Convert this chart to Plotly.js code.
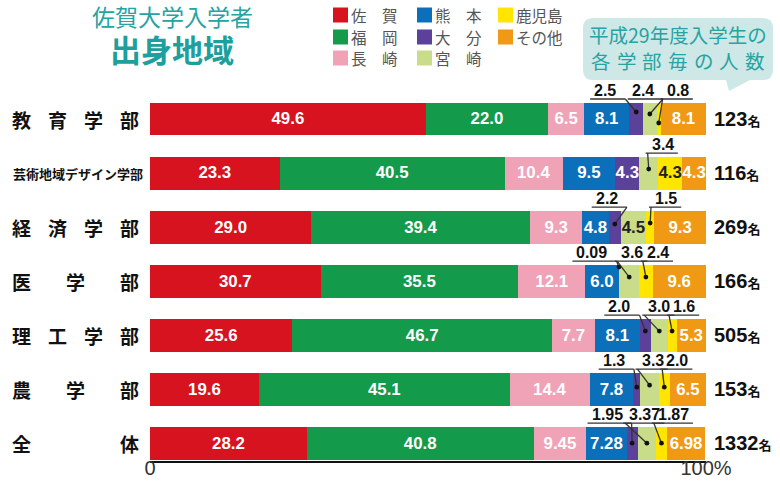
<!DOCTYPE html>
<html>
<head>
<meta charset="utf-8">
<script src="https://cdn.plot.ly/plotly-3.0.1.min.js"></script>
<style>
  html, body { margin: 0; padding: 0; background: #ffffff; }
  #chart { width: 780px; height: 483px; }
</style>
</head>
<body>
<div id="chart"></div>
<script>
// ---------------- data ----------------
const categories = ['教育学部', '芸術地域デザイン学部', '経済学部', '医学部', '理工学部', '農学部', '全体'];
const counts = [123, 116, 269, 166, 505, 153, 1332];
const regions = ['佐賀', '福岡', '長崎', '熊本', '大分', '宮崎', '鹿児島', 'その他'];

const saga      = [49.6, 23.3, 29.0, 30.7, 25.6, 19.6, 28.2];
const fukuoka   = [22.0, 40.5, 39.4, 35.5, 46.7, 45.1, 40.8];
const nagasaki  = [6.5, 10.4, 9.3, 12.1, 7.7, 14.4, 9.45];
const kumamoto  = [8.1, 9.5, 4.8, 6.0, 8.1, 7.8, 7.28];
const oita      = [2.5, 4.3, 2.2, 0.09, 2.0, 1.3, 1.95];
const miyazaki  = [2.4, 3.4, 4.5, 3.6, 3.0, 3.3, 3.37];
const kagoshima = [0.8, 4.3, 1.5, 2.4, 1.6, 2.0, 1.87];
const sonota    = [8.1, 4.3, 9.3, 9.6, 5.3, 6.5, 6.98];

const tickVals = [0, 100];
const tickText = ['0', '100%'];

const series = [saga, fukuoka, nagasaki, kumamoto, oita, miyazaki, kagoshima, sonota];

// ---------------- style ----------------
const colors = ['#d6131f', '#139a4b', '#f0a2b7', '#0c6fb9', '#5b4199', '#c8dc89', '#ffe500', '#ef9914'];
const darkTextSeries = [5, 6];          // light green / yellow get dark text
const teal = '#27a3a1';
const W = 780, H = 483, L = 150, R = 74, T = 92, B = 22;
const PW = W - L - R, PH = H - T - B;
const px2x = px => (px - L) / PW;
const py2y = py => (T + PH - py) / PH;

// callouts: small segments labelled above the bar (row, series, label offset, dot offset)
const callouts = [
  {row: 0, s: 4, dx: -31, dy: 7}, {row: 0, s: 5, dx: -7, dy: 5}, {row: 0, s: 6, dx: 19, dy: -4},
  {row: 1, s: 5, dx: 14, dy: 4},
  {row: 2, s: 4, dx: -8, dy: 3}, {row: 2, s: 6, dx: 16, dy: 4},
  {row: 3, s: 4, dx: -27, dy: 14}, {row: 3, s: 5, dx: 3, dy: 4}, {row: 3, s: 6, dx: 12, dy: 4},
  {row: 4, s: 4, dx: -26, dy: 4}, {row: 4, s: 5, dx: 0, dy: 4}, {row: 4, s: 6, dx: 12, dy: 4},
  {row: 5, s: 4, dx: -23, dy: 2}, {row: 5, s: 5, dx: 3, dy: 4}, {row: 5, s: 6, dx: 13, dy: 2},
  {row: 6, s: 4, dx: -25, dy: 0}, {row: 6, s: 5, dx: -2, dy: 0}, {row: 6, s: 6, dx: 12, dy: 0}
];

function fmt(v) {
  return Math.abs(v * 10 - Math.round(v * 10)) < 1e-9 ? v.toFixed(1) : v.toFixed(2);
}
const isCallout = (r, s) => callouts.some(c => c.row === r && c.s === s);
const rows = categories.map((_, i) => i);

// ---------------- traces ----------------
const traces = series.map((vals, s) => ({
  type: 'bar',
  orientation: 'h',
  name: regions[s],
  x: vals,
  y: rows,
  width: 0.61,
  marker: {color: colors[s], line: {width: 0}},
  text: vals.map((v, r) => isCallout(r, s) ? '' : fmt(v)),
  texttemplate: '<b>%{text}</b>',
  textposition: 'inside',
  insidetextanchor: 'middle',
  textangle: 0,
  textfont: {
    family: 'Liberation Sans, Arial, sans-serif',
    size: 17,
    weight: 'bold',
    color: vals.map(() => darkTextSeries.includes(s) ? '#222222' : '#ffffff')
  },
  hoverinfo: 'skip',
  showlegend: false
}));

// ---------------- annotations & shapes ----------------
const annotations = [];
const shapes = [];
const cjk = 'Noto Sans CJK JP, sans-serif';

// title
annotations.push({xref: 'paper', yref: 'paper', x: px2x(172), y: py2y(16.5), xanchor: 'center', yanchor: 'middle',
  text: '佐賀大学入学者', showarrow: false, font: {family: cjk, size: 23, color: teal}});
annotations.push({xref: 'paper', yref: 'paper', x: px2x(172), y: py2y(49), xanchor: 'center', yanchor: 'middle',
  text: '<b>出身地域</b>', showarrow: false, font: {family: cjk, size: 31, color: '#1c9f9d'}});

// custom legend: 3 columns, column-major
const legCols = [333, 417, 498], legRows = [15, 37, 58];
regions.forEach((name, i) => {
  const cx = legCols[Math.floor(i / 3)], cy = legRows[i % 3];
  shapes.push({type: 'rect', xref: 'paper', yref: 'paper',
    x0: px2x(cx), x1: px2x(cx + 15), y0: py2y(cy + 7.5), y1: py2y(cy - 7.5),
    fillcolor: colors[i], line: {width: 0}});
  const label = name.length === 2 ? name[0] + '\u3000' + name[1] : name;
  annotations.push({xref: 'paper', yref: 'paper', x: px2x(cx + 16), y: py2y(cy), xanchor: 'left', yanchor: 'middle',
    text: label, showarrow: false, font: {family: cjk, size: 15.5, color: '#555555'}});
});

// speech bubble
(function () {
  const x0 = 583, x1 = 773, y0 = 18, y1 = 80, r = 10;
  const P = (x, y) => px2x(x).toFixed(5) + ',' + py2y(y).toFixed(5);
  const path = 'M' + P(x0 + r, y0) + ' L' + P(x1 - r, y0) + ' Q' + P(x1, y0) + ' ' + P(x1, y0 + r) +
    ' L' + P(x1, y1 - r) + ' Q' + P(x1, y1) + ' ' + P(x1 - r, y1) +
    ' L' + P(750, y1) + ' L' + P(729, 91) + ' L' + P(726, y1) +
    ' L' + P(x0 + r, y1) + ' Q' + P(x0, y1) + ' ' + P(x0, y1 - r) +
    ' L' + P(x0, y0 + r) + ' Q' + P(x0, y0) + ' ' + P(x0 + r, y0) + ' Z';
  shapes.push({type: 'path', xref: 'paper', yref: 'paper', path: path, fillcolor: '#cde8e6', line: {width: 0}, layer: 'below'});
})();
annotations.push({xref: 'paper', yref: 'paper', x: px2x(678), y: py2y(34.5), xanchor: 'center', yanchor: 'middle',
  text: '平成29年度入学生の', showarrow: false, borderpad: 0, font: {family: cjk, size: 19.5, color: teal}});

// spread characters evenly between two pixel positions
function spread(text, left, right, yref, yval, size, color, bold) {
  const chars = Array.from(text);
  const cw = size * 0.95;
  const n = chars.length;
  chars.forEach((ch, k) => {
    const c = n === 1 ? (left + right) / 2 : left + cw / 2 + k * (right - left - cw) / (n - 1);
    annotations.push({xref: 'paper', yref: yref, x: px2x(c), y: yval, xanchor: 'center', yanchor: 'middle',
      text: bold ? '<b>' + ch + '</b>' : ch, showarrow: false, borderpad: 0, font: {family: cjk, size: size, color: color}});
  });
}
spread('各学部毎の人数', 592, 764, 'paper', py2y(60.5), 19.5, teal, false);

// category labels
categories.forEach((cat, r) => {
  if (cat.length > 4) {
    annotations.push({xref: 'paper', yref: 'y', x: px2x(11), y: r, xanchor: 'left', yanchor: 'middle',
      text: '<b>' + cat + '</b>', showarrow: false, font: {family: cjk, size: 13, color: '#111111'}});
  } else {
    spread(cat, 12, 139, 'y', r, 19, '#111111', true);
  }
});

// counts on the right
counts.forEach((c, r) => {
  annotations.push({xref: 'paper', yref: 'y', x: 1, xshift: 6, y: r, xanchor: 'left', yanchor: 'middle',
    text: '<b>' + c + '</b><span style="font-size:13px; font-family:Noto Sans CJK JP"><b>名</b></span>',
    showarrow: false, font: {family: 'Liberation Sans, Arial, sans-serif', size: 20, color: '#111111'}});
});

// callouts
callouts.forEach(cfg => {
  const r = cfg.row, s = cfg.s;
  let start = 0;
  for (let k = 0; k < s; k++) start += series[k][r];
  const v = series[s][r];
  const xc = start + v / 2;
  const txt = fmt(v);
  const w = Array.from(txt).reduce((a, ch) => a + (ch === '.' ? 4.4 : 8.9), 0);
  const rightSide = cfg.dx < -5;
  const ulY = 20;
  let u0 = cfg.dx - w / 2 - 4, u1 = cfg.dx + w / 2 + 4;
  if (rightSide) u1 += 5; else u0 -= 2;
  annotations.push({xref: 'x', yref: 'y', x: xc, y: r, xshift: cfg.dx, yshift: 29, xanchor: 'center', yanchor: 'middle',
    text: '<b>' + txt + '</b>', showarrow: false,
    font: {family: 'Liberation Sans, Arial, sans-serif', size: 16, color: '#111111'}});
  shapes.push({type: 'line', xref: 'x', yref: 'y', xsizemode: 'pixel', ysizemode: 'pixel', xanchor: xc, yanchor: r,
    x0: u0, x1: u1, y0: ulY, y1: ulY, line: {color: '#333333', width: 1.3}});
  const lx = rightSide ? u1 : u0 + 2;
  shapes.push({type: 'line', xref: 'x', yref: 'y', xsizemode: 'pixel', ysizemode: 'pixel', xanchor: xc, yanchor: r,
    x0: lx, x1: 0, y0: ulY, y1: cfg.dy, line: {color: '#333333', width: 1.3}});
  shapes.push({type: 'circle', xref: 'x', yref: 'y', xsizemode: 'pixel', ysizemode: 'pixel', xanchor: xc, yanchor: r,
    x0: -2.4, x1: 2.4, y0: cfg.dy - 2.4, y1: cfg.dy + 2.4, fillcolor: '#111111', line: {width: 0}});
});

// ---------------- layout ----------------
const layout = {
  width: W, height: H,
  margin: {l: L, r: R, t: T, b: B, pad: 0},
  paper_bgcolor: '#ffffff', plot_bgcolor: '#ffffff',
  barmode: 'stack',
  bargap: 0,
  showlegend: false,
  uniformtext: {mode: 'show', minsize: 16},
  xaxis: {
    range: [0, 100], fixedrange: true,
    showgrid: false, zeroline: false,
    showline: true, linecolor: '#111111', linewidth: 2,
    tickmode: 'array', tickvals: tickVals, ticktext: tickText,
    ticks: '', ticklen: 0, ticklabelstandoff: -12,
    tickfont: {family: 'Liberation Sans, Arial, sans-serif', size: 20, color: '#333333'}
  },
  yaxis: {
    range: [6.33, -0.5], fixedrange: true,
    showgrid: false, zeroline: false, showline: false, showticklabels: false, ticks: ''
  },
  annotations: annotations,
  shapes: shapes
};

Plotly.newPlot('chart', traces, layout, {displayModeBar: false, staticPlot: true});
</script>
</body>
</html>
